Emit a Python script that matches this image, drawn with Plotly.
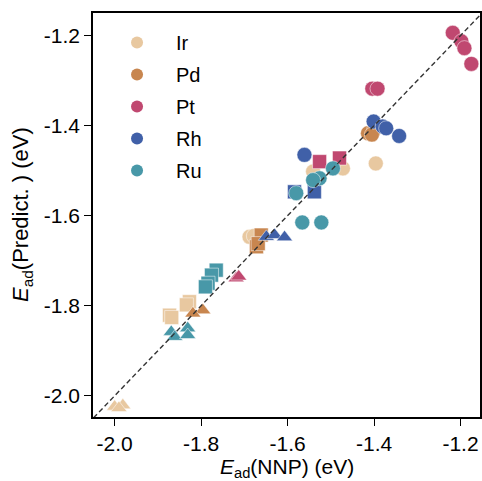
import plotly.graph_objects as go

metals = ["Ir", "Pd", "Pt", "Rh", "Ru"]
colors = {"Ir": "#E8C8A0", "Pd": "#C8864F", "Pt": "#C04870", "Rh": "#4060A8", "Ru": "#4898A8"}

# (metal, shape) -> x (NNP), y (Predict.)
ir_circle_x = [-1.396, -1.472, -1.541, -1.688, -1.678]
ir_circle_y = [-1.484, -1.495, -1.502, -1.647, -1.645]
ir_square_x = [-1.827, -1.834, -1.873, -1.868]
ir_square_y = [-1.791, -1.798, -1.821, -1.826]
ir_tri_x = [-2.000, -1.981, -1.990]
ir_tri_y = [-2.024, -2.021, -2.027]

pd_circle_x = [-1.414, -1.400, -1.405]
pd_circle_y = [-1.417, -1.410, -1.420]
pd_square_x = [-1.672, -1.661, -1.668]
pd_square_y = [-1.669, -1.643, -1.662]
pd_tri_x = [-1.796, -1.819]
pd_tri_y = [-1.810, -1.817]

pt_circle_x = [-1.218, -1.198, -1.191, -1.175, -1.404, -1.392]
pt_circle_y = [-1.194, -1.213, -1.228, -1.263, -1.318, -1.318]
pt_square_x = [-1.526, -1.480]
pt_square_y = [-1.480, -1.472]
pt_tri_x = [-1.719, -1.713]
pt_tri_y = [-1.739, -1.735]

rh_circle_x = [-1.401, -1.380, -1.372, -1.342, -1.561]
rh_circle_y = [-1.391, -1.402, -1.406, -1.423, -1.465]
rh_square_x = [-1.584, -1.538]
rh_square_y = [-1.547, -1.547]
rh_tri_x = [-1.649, -1.630, -1.607]
rh_tri_y = [-1.647, -1.643, -1.648]

ru_circle_x = [-1.495, -1.526, -1.541, -1.580, -1.566, -1.522]
ru_circle_y = [-1.495, -1.517, -1.521, -1.550, -1.615, -1.615]
ru_square_x = [-1.765, -1.776, -1.784, -1.790]
ru_square_y = [-1.721, -1.732, -1.750, -1.758]
ru_tri_x = [-1.869, -1.861, -1.831, -1.831]
ru_tri_y = [-1.858, -1.869, -1.850, -1.865]

series = [
    ("Ir", "circle", ir_circle_x, ir_circle_y), ("Ir", "square", ir_square_x, ir_square_y),
    ("Ir", "triangle-up", ir_tri_x, ir_tri_y),
    ("Pd", "circle", pd_circle_x, pd_circle_y), ("Pd", "square", pd_square_x, pd_square_y),
    ("Pd", "triangle-up", pd_tri_x, pd_tri_y),
    ("Pt", "circle", pt_circle_x, pt_circle_y), ("Pt", "square", pt_square_x, pt_square_y),
    ("Pt", "triangle-up", pt_tri_x, pt_tri_y),
    ("Rh", "circle", rh_circle_x, rh_circle_y), ("Rh", "square", rh_square_x, rh_square_y),
    ("Rh", "triangle-up", rh_tri_x, rh_tri_y),
    ("Ru", "circle", ru_circle_x, ru_circle_y), ("Ru", "square", ru_square_x, ru_square_y),
    ("Ru", "triangle-up", ru_tri_x, ru_tri_y),
]

tick_vals = [-2.0, -1.8, -1.6, -1.4, -1.2]
tick_text = ["-2.0", "-1.8", "-1.6", "-1.4", "-1.2"]
diag = [-2.1, -1.1]
x_title = "<i>E</i><sub>ad</sub>(NNP) (eV)"
y_title = "<i>E</i><sub>ad</sub>(Predict. ) (eV)"

fig = go.Figure()
for metal, sym, xs, ys in series:
    size = {"circle": 15, "square": 14, "triangle-up": 14}[sym]
    fig.add_trace(go.Scatter(
        x=xs, y=ys, mode="markers", showlegend=False,
        marker=dict(symbol=sym, size=size, color=colors[metal],
                    line=dict(color="white", width=0.5)),
    ))

for metal in metals:
    fig.add_trace(go.Scatter(
        x=[None], y=[None], mode="markers", name=metal, legendgroup=metal,
        marker=dict(symbol="circle", size=12, color=colors[metal]),
    ))

fig.add_trace(go.Scatter(
    x=diag, y=diag, mode="lines", showlegend=False,
    line=dict(color="#333333", width=1.4, dash="5px,3px"),
))

font_family = "Liberation Sans, Arial, Helvetica, sans-serif"
axis_common = dict(
    showline=True, linecolor="black", linewidth=1.6, mirror=True,
    ticks="outside", ticklen=7, tickwidth=1.4, tickcolor="black",
    showgrid=False, zeroline=False, automargin=False,
    tickvals=tick_vals, ticktext=tick_text,
    tickfont=dict(size=21, color="black", family=font_family),
)

fig.update_layout(
    width=482, height=481,
    margin=dict(l=93, r=2, t=13, b=64),
    plot_bgcolor="white", paper_bgcolor="white",
    font=dict(family=font_family, color="black"),
    xaxis=dict(range=[-2.05, -1.155], **axis_common),
    yaxis=dict(range=[-2.047, -1.15], **axis_common),
    legend=dict(x=0.013, y=0.975, xanchor="left", yanchor="top",
                bgcolor="rgba(0,0,0,0)", borderwidth=0,
                font=dict(size=20, color="black"), itemwidth=68,
                tracegroupgap=3),
    annotations=[
        dict(text=x_title, xref="paper", yref="paper", x=0.5, y=0,
             xanchor="center", yanchor="middle", yshift=-51, showarrow=False,
             font=dict(size=21, color="black")),
        dict(text=y_title, xref="paper", yref="paper", x=0, y=0.5,
             xanchor="center", yanchor="middle", xshift=-71, textangle=-90,
             showarrow=False, font=dict(size=22, color="black")),
    ],
)

fig.write_html("out.html")
